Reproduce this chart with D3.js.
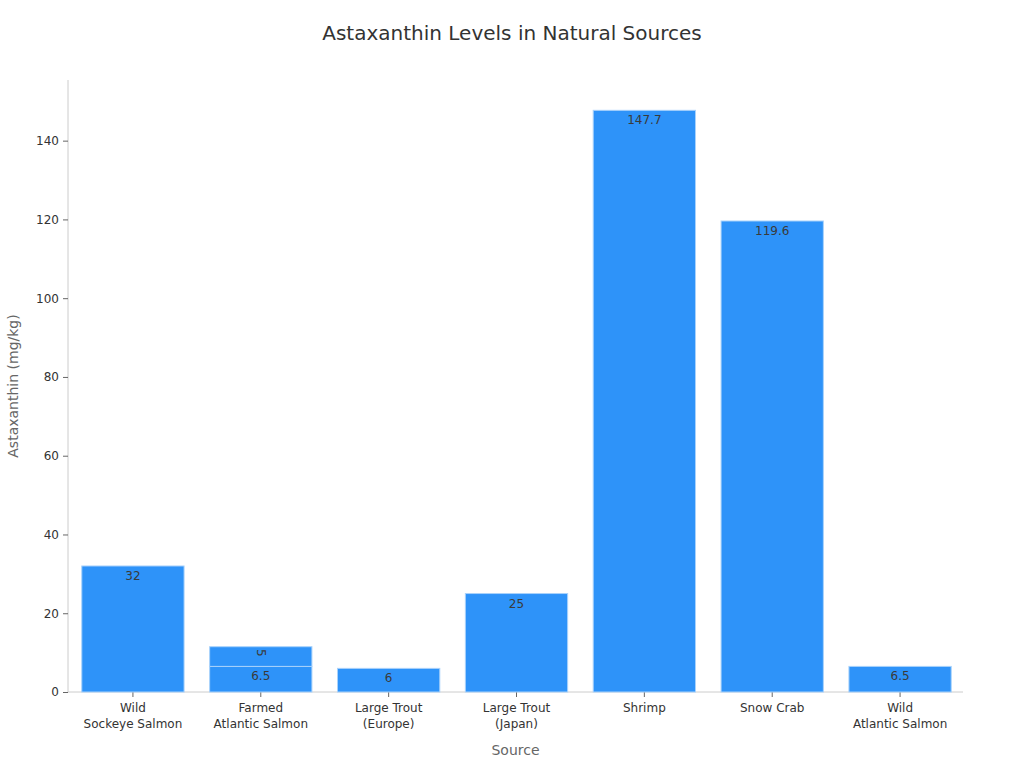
<!DOCTYPE html>
<html lang="en">
<head>
<meta charset="utf-8">
<title>Astaxanthin Levels in Natural Sources</title>
<script src="https://d3js.org/d3.v7.min.js"></script>
<style>
  body { margin: 0; background: #fff; font-family: "DejaVu Sans", sans-serif; }
</style>
</head>
<body>
<div id="chart"></div>
<script>
const categories = ["Wild\nSockeye Salmon", "Farmed\nAtlantic Salmon", "Large Trout\n(Europe)", "Large Trout\n(Japan)", "Shrimp", "Snow Crab", "Wild\nAtlantic Salmon"];
const baseValues = [32, 6.5, 6, 25, 147.7, 119.6, 6.5];
const extraValues = [0, 5, 0, 0, 0, 0, 0];
const yTicks = [0, 20, 40, 60, 80, 100, 120, 140];

const width = 1024, height = 768;
const margin = { top: 80, right: 61, bottom: 76, left: 68 };

const svg = d3.select('#chart').append('svg')
  .attr('width', width)
  .attr('height', height)
  .style('font-family', '"DejaVu Sans", sans-serif');

const x = d3.scaleBand()
  .domain(categories)
  .range([margin.left + 1, width - margin.right + 1])
  .paddingInner(0.2)
  .paddingOuter(0.1);

const y = d3.scaleLinear()
  .domain([0, 155.4])
  .range([height - margin.bottom, margin.top]);

// title
svg.append('text')
  .attr('x', width / 2)
  .attr('y', 40)
  .attr('text-anchor', 'middle')
  .attr('font-size', 20)
  .attr('fill', '#333')
  .text('Astaxanthin Levels in Natural Sources');

// y axis
const yAxis = svg.append('g')
  .attr('transform', `translate(${margin.left},0)`)
  .call(d3.axisLeft(y).tickValues(yTicks).tickSize(5).tickPadding(4));
yAxis.select('.domain').attr('stroke', '#ccc').attr('d', `M0,${y(0)}V${margin.top}`);
yAxis.selectAll('.tick line').attr('stroke', '#666');
yAxis.selectAll('.tick text').attr('font-size', 12).attr('fill', '#333').style('font-family', '"DejaVu Sans", sans-serif');

// x axis
const xAxis = svg.append('g')
  .attr('transform', `translate(0,${y(0)})`)
  .call(d3.axisBottom(x).tickSize(5).tickPadding(6));
xAxis.select('.domain').attr('stroke', '#ccc').attr('d', `M${margin.left},0H${width - margin.right}`);
xAxis.selectAll('.tick line').attr('stroke', '#666');
xAxis.selectAll('.tick text').remove();
xAxis.selectAll('.tick').each(function(d) {
  const t = d3.select(this).append('text')
    .attr('fill', '#333')
    .attr('font-size', 12)
    .attr('text-anchor', 'middle')
    .style('font-family', '"DejaVu Sans", sans-serif');
  d.split('\n').forEach((line, i) => {
    t.append('tspan').attr('x', 0).attr('y', 20 + i * 16).text(line);
  });
});

// axis titles
svg.append('text')
  .attr('x', margin.left + (width - margin.right - margin.left) / 2)
  .attr('y', 755)
  .attr('text-anchor', 'middle')
  .attr('font-size', 14)
  .attr('fill', '#666')
  .text('Source');

svg.append('text')
  .attr('transform', `translate(18,${(y(0) + margin.top) / 2}) rotate(-90)`)
  .attr('text-anchor', 'middle')
  .attr('font-size', 14)
  .attr('fill', '#666')
  .text('Astaxanthin (mg/kg)');

const barColor = '#2e93f9';
const edgeColor = '#a9d2fb';

// base bars
svg.selectAll('rect.base')
  .data(categories)
  .enter().append('rect')
  .attr('class', 'base')
  .attr('x', d => x(d))
  .attr('width', x.bandwidth())
  .attr('y', (d, i) => y(baseValues[i]))
  .attr('height', (d, i) => y(0) - y(baseValues[i]))
  .attr('fill', barColor)
  .attr('stroke', edgeColor)
  .attr('stroke-width', 1);

svg.selectAll('text.baselbl')
  .data(categories)
  .enter().append('text')
  .attr('class', 'baselbl')
  .attr('x', d => x(d) + x.bandwidth() / 2)
  .attr('y', (d, i) => y(baseValues[i]) + 14)
  .attr('text-anchor', 'middle')
  .attr('font-size', 12)
  .attr('fill', '#3a3a3a')
  .text((d, i) => baseValues[i]);

// stacked extra segment
const extra = categories.map((c, i) => ({ c, i })).filter(d => extraValues[d.i] > 0);
svg.selectAll('rect.extra')
  .data(extra)
  .enter().append('rect')
  .attr('class', 'extra')
  .attr('x', d => x(d.c))
  .attr('width', x.bandwidth())
  .attr('y', d => y(baseValues[d.i] + extraValues[d.i]))
  .attr('height', d => y(baseValues[d.i]) - y(baseValues[d.i] + extraValues[d.i]))
  .attr('fill', barColor)
  .attr('stroke', edgeColor)
  .attr('stroke-width', 1);

svg.selectAll('text.extralbl')
  .data(extra)
  .enter().append('text')
  .attr('class', 'extralbl')
  .attr('transform', d => `translate(${x(d.c) + x.bandwidth() / 2},${y(baseValues[d.i] + extraValues[d.i]) + 6}) rotate(90)`)
  .attr('text-anchor', 'middle')
  .attr('dy', '0.35em')
  .attr('font-size', 12)
  .attr('fill', '#3a3a3a')
  .text(d => extraValues[d.i]);
</script>
</body>
</html>
